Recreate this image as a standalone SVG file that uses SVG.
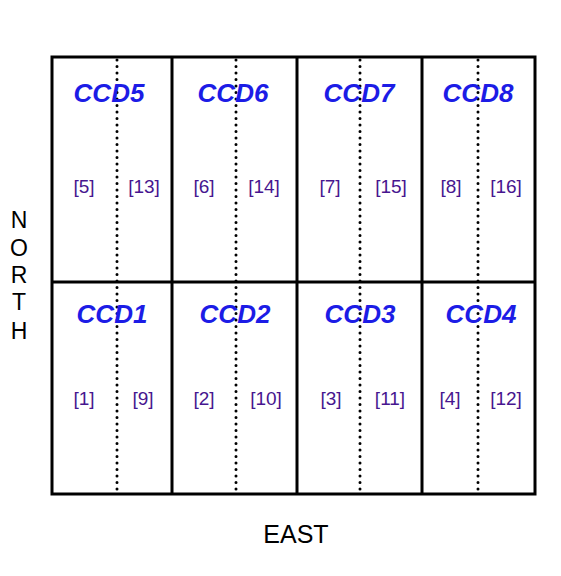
<svg xmlns="http://www.w3.org/2000/svg" width="561" height="576" viewBox="0 0 561 576">
  <style>
    .frame { fill: none; stroke: #000; stroke-width: 3; }
    .edge { stroke: #000; stroke-width: 3; }
    .split { stroke: #000; stroke-width: 3; stroke-linecap: round; stroke-dasharray: 0 6.5; }
    .ccd { font-family: "Liberation Sans", Arial, sans-serif; font-size: 26px; font-weight: bold; font-style: italic; fill: #1c1ce6; text-anchor: middle; }
    .amp { font-family: "Liberation Sans", Arial, sans-serif; font-size: 19px; fill: #47168f; text-anchor: middle; }
    .axis { font-family: "Liberation Sans", Arial, sans-serif; font-size: 25px; fill: #000; text-anchor: middle; }
    .axis-v { font-size: 23px; }
  </style>
  <rect width="561" height="576" fill="#fff"/>

  <!-- mosaic frame and chip boundaries -->
  <g id="connectors">
    <rect class="frame" x="52" y="57" width="483" height="437"/>
    <line class="edge" x1="52" y1="282" x2="535" y2="282"/>
    <line class="edge" x1="172" y1="57" x2="172" y2="494"/>
    <line class="edge" x1="297" y1="57" x2="297" y2="494"/>
    <line class="edge" x1="422" y1="57" x2="422" y2="494"/>
    <!-- amplifier split lines -->
    <line class="split" x1="117" y1="60" x2="117" y2="491"/>
    <line class="split" x1="236" y1="60" x2="236" y2="491"/>
    <line class="split" x1="360" y1="60" x2="360" y2="491"/>
    <line class="split" x1="478" y1="60" x2="478" y2="491"/>
  </g>

  <!-- top row -->
  <g id="ccd5">
    <text class="ccd" x="109" y="102">CCD5</text>
    <text class="amp" x="84" y="193">[5]</text>
    <text class="amp" x="144" y="193">[13]</text>
  </g>
  <g id="ccd6">
    <text class="ccd" x="233" y="102">CCD6</text>
    <text class="amp" x="204" y="193">[6]</text>
    <text class="amp" x="264" y="193">[14]</text>
  </g>
  <g id="ccd7">
    <text class="ccd" x="359" y="102">CCD7</text>
    <text class="amp" x="330" y="193">[7]</text>
    <text class="amp" x="391" y="193">[15]</text>
  </g>
  <g id="ccd8">
    <text class="ccd" x="478" y="102">CCD8</text>
    <text class="amp" x="451" y="193">[8]</text>
    <text class="amp" x="506" y="193">[16]</text>
  </g>

  <!-- bottom row -->
  <g id="ccd1">
    <text class="ccd" x="112" y="323">CCD1</text>
    <text class="amp" x="84" y="405">[1]</text>
    <text class="amp" x="143" y="405">[9]</text>
  </g>
  <g id="ccd2">
    <text class="ccd" x="235" y="323">CCD2</text>
    <text class="amp" x="204" y="405">[2]</text>
    <text class="amp" x="266" y="405">[10]</text>
  </g>
  <g id="ccd3">
    <text class="ccd" x="360" y="323">CCD3</text>
    <text class="amp" x="331" y="405">[3]</text>
    <text class="amp" x="390" y="405">[11]</text>
  </g>
  <g id="ccd4">
    <text class="ccd" x="481" y="323">CCD4</text>
    <text class="amp" x="450" y="405">[4]</text>
    <text class="amp" x="506" y="405">[12]</text>
  </g>

  <!-- orientation labels -->
  <g id="north">
    <text class="axis axis-v" x="19" y="228">N</text>
    <text class="axis axis-v" x="19" y="256">O</text>
    <text class="axis axis-v" x="19" y="283">R</text>
    <text class="axis axis-v" x="19" y="310">T</text>
    <text class="axis axis-v" x="19" y="339">H</text>
  </g>
  <g id="east">
    <text class="axis" x="296" y="543">EAST</text>
  </g>
</svg>
